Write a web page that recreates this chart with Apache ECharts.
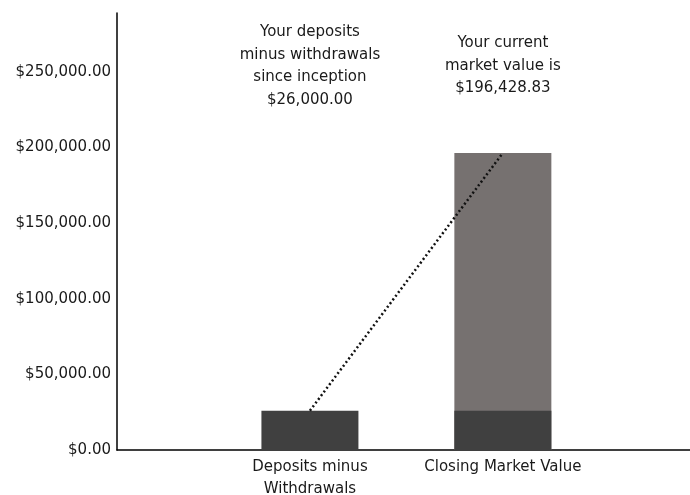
<!DOCTYPE html>
<html><head><meta charset="utf-8">
<script src="https://cdn.jsdelivr.net/npm/echarts@6/dist/echarts.min.js"></script>
<style>html,body{margin:0;padding:0;background:#fff}#c{width:690px;height:495px}</style>
</head><body><div id="c"></div>
<script>
const categories = ["Deposits minus\nWithdrawals", "Closing Market Value"];
const depositsValues = [26000.00, 26000.00];
const marketValues = [26000.00, 196428.83];
const annotations = ["Your deposits\nminus withdrawals\nsince inception\n$26,000.00", "Your current\nmarket value is\n$196,428.83"];
const yTicks = [0, 50000, 100000, 150000, 200000, 250000];

const FONT = "DejaVu Sans";
const fmt = v => "$" + v.toLocaleString("en-US", {minimumFractionDigits: 2, maximumFractionDigits: 2});
const labelLevel = 254000;
const pos = i => i + 1;

const chart = echarts.init(document.getElementById('c'), null, {renderer: 'canvas'});
chart.setOption({
  animation: false,
  backgroundColor: '#fff',
  textStyle: {fontFamily: FONT},
  grid: {left: 117, right: 0, top: 13, bottom: 45, containLabel: false, outerBoundsMode: 'none'},
  xAxis: {
    type: 'value', min: 0, max: 2.97, interval: 1,
    splitLine: {show: false},
    axisTick: {show: false},
    axisLine: {show: true, lineStyle: {color: '#000', width: 1.5}},
    axisLabel: {
      fontFamily: FONT, fontSize: 15, color: '#1a1a1a', lineHeight: 22, margin: 6,
      formatter: v => (Number.isInteger(v) && v >= 1 && v <= categories.length) ? categories[v - 1] : ''
    }
  },
  yAxis: {
    type: 'value', min: 0, max: 289000, interval: 50000,
    splitLine: {show: false},
    axisTick: {show: false},
    axisLine: {show: true, lineStyle: {color: '#000', width: 1.5}},
    axisLabel: {
      fontFamily: FONT, fontSize: 15, color: '#1a1a1a', margin: 6, showMaxLabel: false,
      formatter: v => yTicks.includes(v) ? fmt(v) : ''
    }
  },
  series: [
    {
      name: 'market', type: 'bar', barWidth: 97, barGap: '-100%',
      itemStyle: {color: '#767170'},
      data: marketValues.map((v, i) => i === 0 ? [pos(i), null] : [pos(i), v]),
      z: 2
    },
    {
      name: 'deposits', type: 'bar', barWidth: 97, barGap: '-100%',
      itemStyle: {color: '#404040'},
      data: depositsValues.map((v, i) => [pos(i), v]),
      z: 3
    },
    {
      type: 'line', symbol: 'none',
      lineStyle: {color: '#111', width: 2.5, type: [2, 2.6]},
      data: marketValues.map((v, i) => [pos(i), v]),
      z: 5
    },
    {
      type: 'scatter', symbolSize: 0,
      itemStyle: {opacity: 1},
      label: {
        show: true, position: 'inside', fontFamily: FONT, fontSize: 15, color: '#1a1a1a',
        lineHeight: 22.5, align: 'center', verticalAlign: 'middle', opacity: 1,
        formatter: p => annotations[p.dataIndex]
      },
      data: annotations.map((t, i) => [pos(i), labelLevel]),
      z: 6
    }
  ]
});
</script>
</body></html>
